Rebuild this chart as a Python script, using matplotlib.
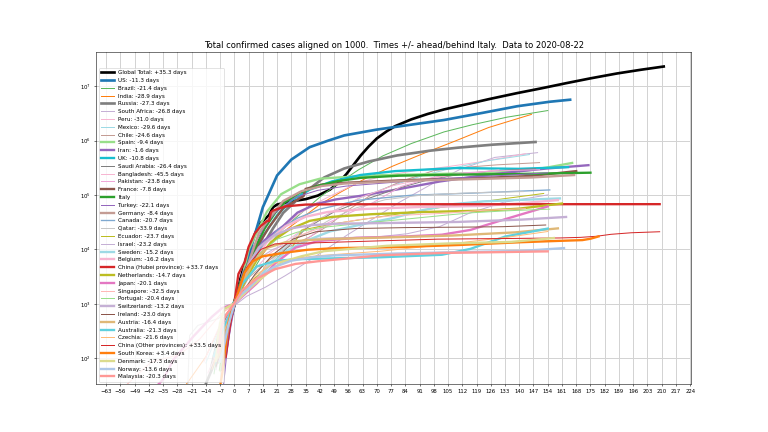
import matplotlib
matplotlib.use("Agg")
import matplotlib.pyplot as plt
from matplotlib.ticker import NullLocator, LogLocator

title = "Total confirmed cases aligned on 1000.  Times +/- ahead/behind Italy.  Data to 2020-08-22"

# days relative to the day each series reached 1000 cases, and case counts
glob_days = [-2, -1, 0, 3, 7, 12, 17, 19, 21, 28, 35, 41, 47, 51, 55, 59, 62, 66, 70, 75, 79, 87, 95, 103, 111, 125, 139, 151, 163, 175, 188, 200, 211]
glob_vals = [555, 654, 941, 2927, 9927, 28276, 42763, 60000, 67000, 76843, 84124, 97886, 126214, 167000, 242000, 378000, 530000, 782000, 1100000, 1500000, 1850000, 2470000, 3100000, 3750000, 4400000, 5800000, 7500000, 9200000, 11400000, 14000000, 17200000, 20200000, 23100000]

us_days = [-7, -4, 0, 4, 9, 14, 21, 28, 37, 46, 54, 70, 86, 103, 122, 139, 155, 165]
us_vals = [118, 319, 959, 2726, 13680, 60000, 230000, 450000, 760000, 1000000, 1250000, 1600000, 1950000, 2400000, 3250000, 4300000, 5200000, 5667000]

brazil_days = [-10, -8, -4, 0, 5, 10, 16, 23, 31, 42, 51, 61, 73, 87, 103, 117, 134, 154]
brazil_vals = [52, 151, 234, 1000, 2433, 4579, 11130, 22169, 40743, 91589, 162699, 291579, 526447, 888271, 1448753, 1966748, 2707877, 3582362]

india_days = [-26, -25, -14, -7, -4, 0, 4, 8, 14, 22, 33, 42, 52, 64, 78, 94, 108, 125, 146]
india_vals = [5, 28, 107, 396, 657, 1024, 2543, 4778, 8446, 18539, 37257, 67161, 112028, 198370, 343091, 604641, 968876, 1750723, 3044940]

russia_days = [-14, -11, -7, -4, 0, 4, 9, 14, 19, 24, 35, 44, 54, 66, 80, 96, 110, 127, 148]
russia_vals = [34, 63, 253, 438, 1036, 2337, 5389, 11917, 24490, 47121, 114431, 209688, 308705, 414328, 536484, 654405, 745197, 845443, 946976]

safrica_days = [-9, -6, -3, 0, 6, 15, 25, 36, 45, 55, 67, 81, 97, 111, 128, 149]
safrica_vals = [62, 202, 402, 927, 1380, 2003, 3300, 5951, 10015, 18003, 34357, 73533, 159333, 298292, 493183, 603338]

peru_days = [-15, -7, 0, 4, 9, 14, 19, 30, 39, 49, 61, 75, 91, 105, 122, 143]
peru_vals = [86, 416, 1065, 2281, 5256, 11475, 16325, 40459, 67307, 104020, 170039, 232992, 288477, 333867, 414735, 576067]

mexico_days = [-14, -7, -3, 0, 6, 13, 21, 32, 41, 51, 63, 77, 93, 107, 124, 145]
mexico_vals = [82, 367, 717, 1094, 2143, 4661, 8261, 20739, 35022, 56594, 93435, 146837, 231770, 311486, 424637, 556216]

chile_days = [-10, -6, 0, 7, 16, 26, 37, 46, 56, 68, 82, 98, 112, 129, 150]
chile_vals = [75, 434, 1000, 3031, 5972, 10832, 17008, 27219, 53617, 105159, 179436, 282043, 321205, 359731, 395708]

spain_days = [-8, -6, -4, 0, 3, 7, 11, 16, 23, 32, 42, 53, 72, 103, 128, 145, 154, 166]
spain_vals = [84, 165, 282, 1073, 2277, 9942, 20410, 49515, 104118, 158273, 200210, 213435, 232037, 245938, 257494, 288522, 322980, 390000]

iran_days = [-6, -4, -2, 0, 4, 9, 14, 19, 24, 31, 40, 50, 61, 80, 101, 122, 141, 153, 174]
iran_vals = [61, 139, 388, 978, 3513, 8042, 13938, 19644, 27017, 47593, 68192, 83505, 95646, 126949, 177938, 230211, 276202, 306752, 354764]

uk_days = [-7, -4, 0, 4, 8, 14, 21, 28, 37, 48, 62, 79, 109, 140, 164]
uk_vals = [209, 382, 1144, 2689, 5741, 17312, 42477, 79874, 125856, 178685, 234440, 276156, 314160, 303952, 326614]

saudi_days = [-12, -8, 0, 9, 19, 35, 49, 66, 80, 96, 110, 127, 148]
saudi_vals = [62, 274, 1104, 2385, 5862, 24097, 49176, 87142, 132048, 194225, 237803, 278835, 305186]

bangla_days = [-13, -7, -4, -3, 0, 6, 17, 26, 36, 48, 62, 78, 92, 109, 130]
bangla_vals = [54, 164, 424, 482, 1012, 2948, 8238, 14657, 26738, 49534, 90619, 149258, 193590, 237661, 290360]

pakistan_days = [-9, -7, 0, 7, 16, 26, 37, 46, 56, 68, 82, 98, 112, 129, 150]
pakistan_vals = [94, 301, 1063, 2039, 4601, 8418, 16817, 30941, 45898, 72460, 144478, 213470, 255769, 279699, 292765]

france_days = [-7, -4, 0, 4, 8, 12, 17, 24, 34, 35, 43, 54, 85, 115, 146, 168]
france_vals = [130, 285, 1126, 2284, 6650, 12632, 25600, 57749, 95403, 130000, 156000, 168000, 189000, 202000, 225000, 276000]

italy_days = [-7, -5, -3, 0, 3, 7, 11, 15, 20, 25, 32, 41, 51, 62, 81, 107, 137, 175]
italy_vals = [62, 229, 453, 1128, 2502, 5883, 12462, 24747, 47021, 74386, 110574, 147577, 181228, 207428, 227364, 237290, 243506, 258136]

turkey_days = [-6, -4, -2, 0, 4, 9, 15, 20, 30, 41, 55, 72, 102, 133, 154]
turkey_vals = [18, 98, 359, 947, 2433, 10827, 27069, 47029, 90980, 122392, 146457, 164769, 201098, 230873, 256723]

germany_days = [-8, -4, 0, 4, 8, 12, 17, 24, 33, 43, 54, 85, 115, 146, 167]
germany_vals = [130, 262, 1040, 2745, 7272, 19848, 37323, 77872, 118235, 147065, 163009, 183494, 195418, 210670, 233575]

canada_days = [-9, -5, 0, 5, 12, 21, 31, 42, 61, 87, 117, 155]
canada_vals = [77, 250, 1000, 3409, 9560, 22148, 37657, 55061, 80493, 99467, 108829, 124372]

qatar_days = [-23, -22, -18, -8, -3, 0, 8, 18, 29, 38, 48, 60, 74, 90, 104, 121, 142]
qatar_vals = [24, 262, 401, 537, 693, 1000, 2376, 6015, 14872, 22520, 37097, 58433, 82077, 97897, 105477, 111538, 115956]

ecuador_days = [-7, -6, -3, 0, 9, 13, 18, 28, 33, 48, 70, 100, 131, 152]
ecuador_vals = [58, 111, 426, 1000, 2758, 3646, 7257, 10128, 22719, 29420, 39098, 58257, 84370, 107089]

israel_days = [-10, -6, 0, 10, 19, 29, 40, 71, 85, 101, 115, 132, 154]
israel_vals = [100, 213, 1000, 6092, 10095, 13713, 16101, 17169, 19495, 26452, 45746, 73483, 100716]

sweden_days = [-8, -5, 0, 5, 17, 26, 36, 47, 66, 78, 92, 108, 122, 139, 160]
sweden_vals = [137, 355, 1000, 1639, 4947, 9685, 14777, 21520, 30799, 37814, 52383, 68451, 76492, 81181, 86891]

belgium_days = [-9, -6, 0, 4, 9, 16, 25, 35, 46, 65, 91, 121, 138, 159]
belgium_vals = [109, 267, 1000, 2815, 4937, 13964, 26667, 39983, 49032, 55791, 60348, 63238, 69402, 80894]

hubei_days = [-4, -2, 0, 2, 5, 7, 10, 13, 16, 17, 18, 19, 25, 35, 49, 209]
hubei_vals = [444, 549, 1058, 3554, 5806, 11177, 19665, 27100, 33366, 33366, 48206, 51986, 62031, 66907, 67794, 68135]

netherlands_days = [-6, -4, 0, 6, 11, 18, 27, 37, 48, 67, 93, 123, 140, 161]
netherlands_vals = [265, 382, 1000, 3003, 6440, 13614, 23249, 33588, 39791, 44447, 48948, 51952, 56381, 70000]

japan_days = [-50, -40, -35, -30, -20, -11, -6, 0, 11, 20, 30, 41, 60, 86, 102, 116, 133, 154]
japan_vals = [20, 26, 41, 94, 256, 581, 839, 1007, 2384, 5530, 10797, 14281, 16385, 17502, 18723, 22890, 36014, 61747]

singapore_days = [-57, -54, -41, -27, -17, -7, 0, 9, 19, 30, 39, 49, 61, 75, 91, 105, 122, 143]
singapore_vals = [24, 30, 85, 117, 226, 631, 1000, 2108, 8014, 17101, 22460, 29364, 35292, 40969, 44122, 46630, 52512, 56353]

portugal_days = [-7, -4, 0, 5, 12, 21, 31, 42, 61, 87, 103, 117, 134, 155]
portugal_vals = [59, 245, 1020, 2995, 8251, 15472, 20863, 25190, 29912, 37036, 42454, 47426, 51463, 55211]

swiss_days = [-8, -5, 0, 3, 7, 12, 19, 28, 38, 49, 80, 110, 141, 163]
swiss_vals = [90, 337, 1000, 2200, 5294, 10897, 17768, 24551, 28063, 29705, 30871, 32101, 35412, 39627]

ireland_days = [-9, -6, 0, 10, 19, 29, 40, 59, 85, 115, 132, 153]
ireland_vals = [70, 169, 1000, 3447, 8089, 15652, 21176, 24251, 25295, 25826, 26253, 28201]

austria_days = [-8, -4, 0, 4, 9, 16, 25, 35, 46, 77, 107, 138, 159]
austria_vals = [104, 302, 1018, 2388, 5588, 10711, 13555, 14795, 15558, 16731, 18050, 20646, 24431]

australia_days = [-10, -6, 0, 4, 11, 20, 30, 41, 72, 102, 109, 116, 133, 154]
australia_vals = [112, 297, 1071, 2364, 4862, 6152, 6619, 6766, 7195, 8001, 9059, 10251, 17280, 24236]

czechia_days = [-11, -6, 0, 11, 20, 30, 41, 72, 102, 133, 154]
czechia_vals = [63, 253, 995, 3508, 5732, 6900, 7682, 9302, 12178, 16574, 21409]

chother_days = [-4, -2, 0, 2, 6, 13, 20, 35, 60, 100, 140, 160, 170, 178, 185, 195, 209]
chother_vals = [104, 369, 1060, 1955, 4638, 10020, 12700, 13100, 14000, 15500, 16000, 16300, 16700, 17500, 19000, 20300, 21200]

skorea_days = [-8, -7, -6, -5, -4, -3, -2, -1, 0, 5, 9, 14, 24, 36, 50, 80, 111, 141, 158, 171, 175, 179]
skorea_vals = [30, 31, 51, 104, 204, 433, 602, 833, 977, 3736, 6088, 7513, 8652, 9887, 10591, 11037, 12121, 13612, 14336, 14873, 15761, 17399]

denmark_days = [-9, -8, -7, -5, 0, 7, 14, 23, 33, 44, 75, 105, 136, 157]
denmark_vals = [90, 264, 444, 804, 1024, 1877, 3107, 5819, 7515, 9311, 11699, 12900, 13789, 16239]

norway_days = [-7, -5, -3, 0, 3, 7, 12, 19, 28, 38, 49, 80, 110, 141, 162]
norway_vals = [87, 176, 400, 996, 1471, 1914, 3084, 4665, 6211, 7191, 7783, 8440, 8931, 9409, 10611]

malaysia_days = [-8, -7, -6, -5, 0, 4, 11, 20, 30, 41, 72, 102, 133, 154]
malaysia_vals = [129, 238, 428, 553, 1030, 1796, 2908, 4346, 5425, 6071, 7819, 8639, 8976, 9240]

labels = [
    "Global Total: +35.3 days", "US: -11.3 days", "Brazil: -21.4 days", "India: -28.9 days",
    "Russia: -27.3 days", "South Africa: -26.8 days", "Peru: -31.0 days", "Mexico: -29.6 days",
    "Chile: -24.6 days", "Spain: -9.4 days", "Iran: -1.6 days", "UK: -10.8 days",
    "Saudi Arabia: -26.4 days", "Bangladesh: -45.5 days", "Pakistan: -23.8 days", "France: -7.8 days",
    "Italy", "Turkey: -22.1 days", "Germany: -8.4 days", "Canada: -20.7 days",
    "Qatar: -33.9 days", "Ecuador: -23.7 days", "Israel: -23.2 days", "Sweden: -15.2 days",
    "Belgium: -16.2 days", "China (Hubei province): +33.7 days", "Netherlands: -14.7 days", "Japan: -20.1 days",
    "Singapore: -32.5 days", "Portugal: -20.4 days", "Switzerland: -13.2 days", "Ireland: -23.0 days",
    "Austria: -16.4 days", "Australia: -21.3 days", "Czechia: -21.6 days", "China (Other provinces): +33.5 days",
    "South Korea: +3.4 days", "Denmark: -17.3 days", "Norway: -13.6 days", "Malaysia: -20.3 days",
]

series = [
    (glob_days, glob_vals), (us_days, us_vals), (brazil_days, brazil_vals), (india_days, india_vals),
    (russia_days, russia_vals), (safrica_days, safrica_vals), (peru_days, peru_vals), (mexico_days, mexico_vals),
    (chile_days, chile_vals), (spain_days, spain_vals), (iran_days, iran_vals), (uk_days, uk_vals),
    (saudi_days, saudi_vals), (bangla_days, bangla_vals), (pakistan_days, pakistan_vals), (france_days, france_vals),
    (italy_days, italy_vals), (turkey_days, turkey_vals), (germany_days, germany_vals), (canada_days, canada_vals),
    (qatar_days, qatar_vals), (ecuador_days, ecuador_vals), (israel_days, israel_vals), (sweden_days, sweden_vals),
    (belgium_days, belgium_vals), (hubei_days, hubei_vals), (netherlands_days, netherlands_vals), (japan_days, japan_vals),
    (singapore_days, singapore_vals), (portugal_days, portugal_vals), (swiss_days, swiss_vals), (ireland_days, ireland_vals),
    (austria_days, austria_vals), (australia_days, australia_vals), (czechia_days, czechia_vals), (chother_days, chother_vals),
    (skorea_days, skorea_vals), (denmark_days, denmark_vals), (norway_days, norway_vals), (malaysia_days, malaysia_vals),
]

# colour, line width
styles = [
    ("black", 4), ("#1f77b4", 4), ("#5cb85c", 1.5), ("#ff7f0e", 1.5),
    ("#7f7f7f", 4), ("#c5b0d5", 1.5), ("#f7b6d2", 1.5), ("#9edae5", 1.5),
    ("#c49c94", 1.5), ("#98df8a", 3.5), ("#9467bd", 3.5), ("#17becf", 3.5),
    ("#7f7f7f", 1.5), ("#f7b6d2", 1.5), ("#f0a8d8", 1.5), ("#8c564b", 3.5),
    ("#2ca02c", 3.5), ("#9467bd", 1.5), ("#c49c94", 3.5), ("#7fa9d0", 2),
    ("#c7c7c7", 1.5), ("#bcbd22", 1.5), ("#c5b0d5", 1.5), ("#9edae5", 3.5),
    ("#f7b6d2", 3.5), ("#d62728", 3.5), ("#bcbd22", 3.5), ("#e377c2", 3.5),
    ("#ffb8b6", 1.5), ("#98df8a", 1.5), ("#c5b0d5", 3.5), ("#8c564b", 1.5),
    ("#dfb877", 3.5), ("#5fd0de", 3.5), ("#ffbb78", 1.5), ("#d62728", 1.5),
    ("#ff7f0e", 3.5), ("#dbdb8d", 3.5), ("#aec7e8", 3.5), ("#ff9896", 3.5),
]

fig = plt.figure(figsize=(16, 9), dpi=48)
ax = fig.add_subplot(111)

for (d, v), (c, lw), lab in zip(series, styles, labels):
    ax.plot(d, v, color=c, lw=lw, label=lab)

ax.set_yscale("log")
ax.set_xlim(-68, 224.5)
ax.set_ylim(33, 4.3e7)
ax.set_xticks(range(-63, 225, 7))
ax.yaxis.set_major_locator(LogLocator(base=10))
ax.yaxis.set_minor_locator(NullLocator())
ax.tick_params(labelsize=8)
ax.grid(True, which="major", color="#d3d3d3", lw=1.5)
ax.set_axisbelow(True)
ax.set_title(title, fontsize=12.5)
ax.legend(loc="lower left", fontsize=8.4, labelspacing=0.5, handlelength=2.3)

fig.savefig("out.png", dpi=48)
